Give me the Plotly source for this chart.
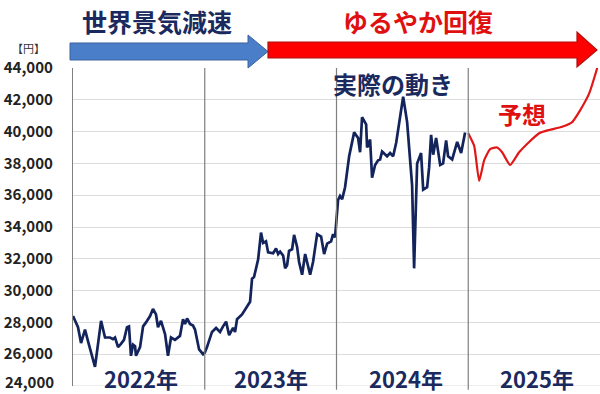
import plotly.graph_objects as go

# ---- data ----
actual_x = [
    2022.000, 2022.038, 2022.061, 2022.091, 2022.121, 2022.167, 2022.213, 2022.243, 2022.281, 2022.304,
    2022.319, 2022.342, 2022.364, 2022.387, 2022.410, 2022.425, 2022.440, 2022.456, 2022.471, 2022.478,
    2022.509, 2022.532, 2022.554, 2022.585, 2022.607, 2022.630, 2022.645, 2022.668, 2022.699, 2022.721,
    2022.744, 2022.774, 2022.812, 2022.835, 2022.850, 2022.866, 2022.888, 2022.911, 2022.926, 2022.957,
    2022.987,
    2023.000, 2023.017, 2023.055, 2023.086, 2023.116, 2023.139, 2023.162, 2023.185, 2023.215, 2023.230,
    2023.245, 2023.283, 2023.321, 2023.344, 2023.359, 2023.374, 2023.405, 2023.427, 2023.443, 2023.465,
    2023.481, 2023.519, 2023.541, 2023.557, 2023.572, 2023.595, 2023.610, 2023.625, 2023.640, 2023.663,
    2023.678, 2023.701, 2023.716, 2023.739, 2023.762, 2023.777, 2023.800, 2023.822, 2023.853, 2023.883,
    2023.906, 2023.929, 2023.959, 2023.974, 2023.989,
    2024.012, 2024.027, 2024.043, 2024.065, 2024.096, 2024.134, 2024.164, 2024.179, 2024.194, 2024.225,
    2024.232, 2024.255, 2024.270, 2024.293, 2024.316, 2024.331, 2024.346, 2024.384, 2024.407, 2024.430,
    2024.453, 2024.483, 2024.506, 2024.536, 2024.559, 2024.574, 2024.589, 2024.612, 2024.642, 2024.658,
    2024.688, 2024.703, 2024.718, 2024.734, 2024.756, 2024.787, 2024.809, 2024.832, 2024.847, 2024.878,
    2024.916, 2024.946, 2024.976,
]
actual_y = [
    28400, 27700, 26700, 27550, 26600, 25200, 28100, 27050, 27050, 26950,
    27050, 26450, 26650, 26900, 27700, 27750, 25900, 26600, 26500, 25900,
    26450, 27750, 28000, 28400, 28850, 28500, 27700, 28100, 27250, 25900,
    27050, 26900, 27150, 28200, 27900, 28250, 27900, 27800, 27550, 26300,
    26000,
    26100, 26450, 27400, 27650, 27400, 27750, 28050, 27200, 27650, 27400,
    28200, 28500, 29000, 29300, 30750, 30850, 31950, 33650, 33000, 33100,
    32400, 32350, 32650, 32300, 32450, 32200, 31400, 31600, 32500, 32600,
    33500, 32750, 31800, 31000, 32300, 31700, 31000, 31800, 33550, 33400,
    32300, 32950, 33100, 33550, 33350,
    35700, 35950, 35750, 36500, 38450, 39950, 39600, 38700, 40900, 40450,
    39000, 39500, 37100, 37900, 38200, 38250, 38750, 38450, 38650, 38450,
    39300, 40950, 42200, 40600, 37900, 36600, 31400, 38000, 38650, 36350,
    36500, 37750, 39800, 38550, 39600, 37900, 38000, 39450, 38450, 38250,
    39350, 38650, 39950,
]
forecast_x = [3.000, 3.045, 3.083, 3.121, 3.166, 3.219, 3.257, 3.318, 3.386, 3.462,
              3.538, 3.614, 3.713, 3.789, 3.850, 3.918, 3.979]
forecast_x = [2022 + v for v in forecast_x]
forecast_y = [39900, 39100, 36900, 38200, 38900, 39000, 38700, 37900, 38700, 39350,
              39900, 40100, 40300, 40600, 41350, 42400, 44000]

year_labels = ["2022年", "2023年", "2024年", "2025年"]
year_starts = [2022, 2023, 2024, 2025]
y_ticks = list(range(24000, 44001, 2000))
y_tick_text = [f"{v:,}" for v in y_ticks]

# ---- layout geometry ----
W, H = 600, 394
ML, MR, MT, MB = 73, 0, 68, 8
PW, PH = W - ML - MR, H - MT - MB

def px(x):
    return (x - ML) / PW

def py(y):
    return (H - MB - y) / PH

NAVY = "#1a2a5e"
JP = "Noto Sans CJK JP"

fig = go.Figure()
fig.add_trace(go.Scatter(x=actual_x, y=actual_y, mode="lines",
                         line=dict(color="#13235b", width=2.7), hoverinfo="skip"))
fig.add_trace(go.Scatter(x=forecast_x, y=forecast_y, mode="lines",
                         line=dict(color="#e01818", width=2.2, shape="spline", smoothing=0.5),
                         hoverinfo="skip"))

shapes = []
for ys in year_starts[1:]:
    shapes.append(dict(type="line", xref="x", yref="paper", x0=ys, x1=ys, y0=-0.012, y1=1,
                       line=dict(color="#7f7f7f", width=1.2), layer="above"))

def arrow_path(x0, x1, xh, yb0, yb1, yh0, yh1, ytip):
    pts = [(x0, yb0), (xh, yb0), (xh, yh0), (x1, ytip), (xh, yh1), (xh, yb1), (x0, yb1)]
    return "M " + " L ".join(f"{px(a):.5f},{py(b):.5f}" for a, b in pts) + " Z"

shapes.append(dict(type="path", xref="paper", yref="paper",
                   path=arrow_path(70, 268, 248, 43, 60, 35, 68, 51.5),
                   fillcolor="#4a7ec8", line=dict(color="#3a62a0", width=1)))
shapes.append(dict(type="path", xref="paper", yref="paper",
                   path=arrow_path(268, 597, 577, 42, 58, 32, 67, 50),
                   fillcolor="#ff0000", line=dict(color="#b01010", width=1.2)))

ann = []
def text(s, x, y, size, color, weight="bold", yanchor="middle"):
    ann.append(dict(text=s, x=px(x), y=py(y), xref="paper", yref="paper",
                    showarrow=False, xanchor="center", yanchor=yanchor,
                    font=dict(family=JP, size=size, color=color, weight=weight)))

text("世界景気減速", 157, 21, 25, NAVY)
text("ゆるやか回復", 418, 21, 25, "#e01010")
text("実際の動き", 393, 83, 24, NAVY)
text("予想", 522, 113, 24, "#e01010")
text("【円】", 28, 48, 11, "#333333", "normal")
text("24,000", 29, 394, 15, "#222222", yanchor="bottom")
for lbl, cx in zip(year_labels, [141, 271, 406, 537]):
    text(lbl, cx, 378, 22, NAVY)

fig.update_layout(
    width=W, height=H,
    margin=dict(l=ML, r=MR, t=MT, b=MB),
    paper_bgcolor="white", plot_bgcolor="white",
    showlegend=False,
    shapes=shapes, annotations=ann,
    xaxis=dict(range=[2022, 2026], showgrid=False, showticklabels=False, zeroline=False,
               showline=False, fixedrange=True),
    yaxis=dict(range=[24000, 44000], tickvals=y_ticks[1:], ticktext=y_tick_text[1:],
               showgrid=True, gridcolor="#dcdcdc", gridwidth=1, zeroline=False,
               showline=True, linecolor="#7f7f7f", linewidth=1.2,
               ticks="", ticklabelstandoff=16,
               tickfont=dict(family=JP, size=15, color="#222222", weight="bold")),
)
fig.add_hline(y=24000, line=dict(color="#dcdcdc", width=1), layer="below")

fig.write_html("out.html")
